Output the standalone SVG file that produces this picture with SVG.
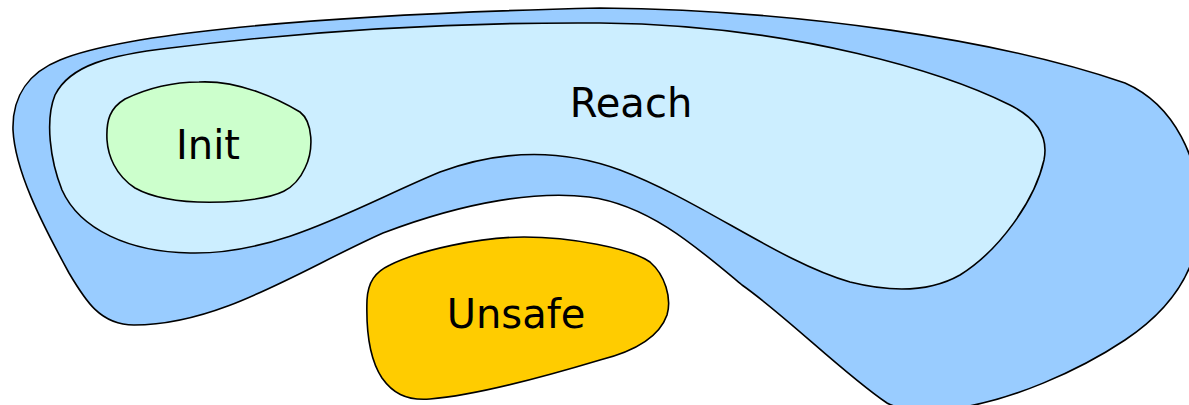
<svg xmlns="http://www.w3.org/2000/svg" width="1189" height="405" viewBox="0 0 1189 405">
<style>
.blob{stroke:#000;stroke-width:1.6;stroke-linejoin:round}
.lbl{font-family:"DejaVu Sans","Liberation Sans",sans-serif;font-size:40px;fill:#000;text-anchor:middle}
</style>
<rect width="1189" height="405" fill="#fff"/>
<g id="outer">
<path class="blob" fill="#99ccff" d="M 600,8 C 800,10 1000,40 1125,83 C 1175,105 1200,160 1200,215 C 1200,270 1170,310 1125,340 C 1080,370 1010,402 950,409 C 920,412 900,410 887,403 C 845,375 785,315 742,285 C 700,250 650,205 589,197 C 540,191 470,200 383,233 C 300,270 220,325 134,325 C 100,325 85,300 69,273 C 40,220 15,170 13,130 C 12,95 30,72 60,60 C 120,35 300,15 600,8 Z"/>
</g>
<g id="reach">
<path class="blob" fill="#cceeff" d="M 600,23 C 800,25 950,75 1010,105 C 1040,120 1048,140 1044,160 C 1035,200 1000,250 960,275 C 930,292 890,292 850,282 C 780,262 700,200 620,170 C 560,148 500,150 440,172 C 360,205 280,255 190,253 C 130,252 80,230 62,190 C 50,160 45,120 55,95 C 70,65 110,55 170,48 C 300,32 450,22 600,23 Z"/>
<text class="lbl" x="631" y="117">Reach</text>
</g>
<g id="init">
<path class="blob" fill="#ccffcc" d="M 199,82 C 240,80 280,100 300,112 C 313,122 314,150 305,168 C 295,190 280,197 240,201 C 200,204 160,202 135,188 C 115,175 108,155 107,140 C 106,120 110,108 125,99 C 150,87 175,82 199,82 Z"/>
<text class="lbl" x="208" y="159">Init</text>
</g>
<g id="unsafe">
<path class="blob" fill="#ffcc00" d="M 524,237 C 570,237 630,248 650,262 C 665,275 672,298 667,315 C 660,335 640,350 600,360 C 560,372 480,395 430,399 C 405,401 392,392 382,378 C 370,360 366,330 367,300 C 368,282 375,272 390,265 C 420,250 480,237 524,237 Z"/>
<text class="lbl" x="516" y="328">Unsafe</text>
</g>
<g id="connectors"/>
</svg>
